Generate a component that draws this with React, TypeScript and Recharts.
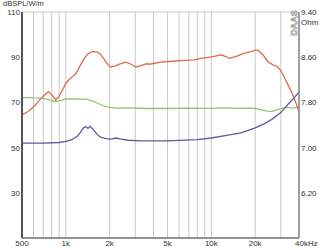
import React from 'react';
import { LineChart, Line, XAxis, YAxis, CartesianGrid } from 'recharts';

const gridFreqs = [500, 600, 700, 800, 900, 1000, 2000, 3000, 4000, 5000, 6000, 7000, 8000, 9000, 10000, 20000, 30000, 40000];
const freqLabels: Record<number, string> = { 500: '500', 1000: '1k', 2000: '2k', 5000: '5k', 10000: '10k', 20000: '20k', 40000: '40kHz' };

const splTicks = [10, 20, 30, 40, 50, 60, 70, 80, 90, 100, 110];
const splLabels = [30, 50, 70, 90, 110];
const ohmTicks = [5.4, 5.8, 6.2, 6.6, 7.0, 7.4, 7.8, 8.2, 8.6, 9.0, 9.4];
const ohmLabels = [6.2, 7.0, 7.8, 8.6, 9.4];

// red: SPL response
const splFreq = [500, 550, 600, 660, 720, 760, 810, 850, 890, 950, 1000, 1050, 1110, 1180, 1260, 1340, 1410, 1480, 1560, 1640, 1720, 1810, 1940, 2030, 2170, 2310, 2580, 2790, 3030, 3280, 3550, 3840, 4500, 5300, 6200, 7600, 8500, 10000, 11700, 12600, 13300, 14800, 16700, 18700, 20300, 21200, 22600, 24500, 26500, 28200, 30100, 32600, 35300, 37500, 40000];
const splDb = [64.4, 66, 68, 71, 73.5, 74.8, 73, 71.2, 72.3, 75.5, 78.5, 80, 81.3, 83, 86.5, 89.5, 91.3, 92.2, 92.5, 92.3, 91.5, 89.6, 86.8, 85.6, 86, 86.8, 87.8, 87, 85.6, 86.3, 87, 87, 87.8, 88.2, 88.5, 88.8, 89.5, 90.1, 91, 90.3, 89.5, 90.4, 91.7, 92.5, 93.2, 92.8, 91, 88, 86.6, 86, 84, 79.5, 75, 71, 66];

// green: second trace, dB scale
const greenFreq = [500, 505, 550, 600, 700, 760, 820, 870, 950, 1000, 1200, 1400, 1550, 1700, 1850, 2000, 2300, 2700, 3500, 5000, 7000, 10000, 12000, 15000, 18000, 20000, 22000, 24000, 26000, 28000, 30000, 33000, 36000, 40000];
const greenDb = [65.5, 72, 72.2, 72, 71.8, 71.2, 70.5, 70.5, 71, 71.5, 71.6, 71.3, 70.5, 69.3, 68.3, 67.8, 67.5, 67.6, 67.3, 67.3, 67.5, 67.4, 67.6, 67.4, 67.5, 67.3, 66.8, 66.1, 66, 66.6, 67.4, 67.8, 67.5, 67.9];

// blue: impedance in ohm
const impFreq = [500, 700, 900, 1000, 1100, 1200, 1260, 1320, 1370, 1420, 1470, 1530, 1600, 1680, 1750, 1900, 2050, 2200, 2400, 2700, 3300, 5000, 8000, 10000, 13000, 16000, 20000, 23000, 26000, 30000, 34000, 37000, 40000];
const impOhm = [7.08, 7.08, 7.09, 7.11, 7.14, 7.2, 7.27, 7.35, 7.37, 7.34, 7.38, 7.33, 7.27, 7.21, 7.18, 7.16, 7.15, 7.17, 7.15, 7.13, 7.12, 7.12, 7.14, 7.17, 7.22, 7.26, 7.35, 7.42, 7.5, 7.62, 7.78, 7.88, 7.98];

const splData = splFreq.map((f, i) => ({ f, v: splDb[i] }));
const greenData = greenFreq.map((f, i) => ({ f, v: greenDb[i] }));
const impData = impFreq.map((f, i) => ({ f, v: impOhm[i] }));

const FONT = '"Liberation Sans", Arial, sans-serif';
const TXT = '#333';
const FS = 8;

const FreqTick = ({ x, y, payload }: any) => {
  const label = freqLabels[payload.value];
  if (!label) return <g />;
  const last = payload.value === 40000;
  return (
    <text x={last ? x - 4 : x} y={y} dy={6} textAnchor={last ? 'start' : 'middle'} fontSize={FS} fontFamily={FONT} fill={TXT}>
      {label}
    </text>
  );
};

const SplTick = ({ x, y, payload }: any) => {
  if (!splLabels.includes(payload.value)) return <g />;
  const top = payload.value === 110;
  return (
    <g>
      <text x={x} y={y} dy={3} textAnchor="end" fontSize={FS} fontFamily={FONT} fill={TXT}>
        {payload.value}
      </text>
      {top && (
        <text x={3} y={6} textAnchor="start" fontSize={7.5} fontFamily={FONT} fill={TXT}>
          dBSPL/W/m
        </text>
      )}
    </g>
  );
};

const OhmTick = ({ x, y, payload }: any) => {
  const v = Number(payload.value);
  if (!ohmLabels.some((o) => Math.abs(o - v) < 1e-6)) return <g />;
  const top = Math.abs(v - 9.4) < 1e-6;
  return (
    <g>
      <text x={x} y={y} dy={3} textAnchor="start" fontSize={FS} fontFamily={FONT} fill={TXT}>
        {v.toFixed(2)}
      </text>
      {top && (
        <>
          <text x={x} y={y + 13} textAnchor="start" fontSize={FS} fontFamily={FONT} fill={TXT}>
            Ohm
          </text>
          <text
            transform={`translate(${x - 4}, ${y + 11}) rotate(-90)`}
            textAnchor="middle"
            fontSize={9}
            fontWeight="bold"
            fontFamily={FONT}
            fill="#fff"
            stroke="#999"
            strokeWidth={0.7}
          >
            DAAS
          </text>
        </>
      )}
    </g>
  );
};

export default function App() {
  return (
    <div style={{ position: 'absolute', left: 0, top: 0, background: '#fff' }}>
      <LineChart width={320} height={250} margin={{ top: 12, right: 0, bottom: 0, left: 0 }}>
        <CartesianGrid stroke="#c9c9c9" />
        <XAxis
          dataKey="f"
          type="number"
          scale="log"
          domain={[500, 40000]}
          ticks={gridFreqs}
          allowDataOverflow
          height={12}
          tickLine={false}
          tickSize={0}
          tick={<FreqTick />}
          interval={0}
          axisLine={{ stroke: '#777', strokeWidth: 1.5 }}
        />
        <XAxis
          xAxisId="top"
          orientation="top"
          dataKey="f"
          type="number"
          scale="log"
          domain={[500, 40000]}
          height={0}
          tick={false}
          tickLine={false}
          axisLine={{ stroke: '#666', strokeWidth: 1.5 }}
        />
        <YAxis
          yAxisId="spl"
          domain={[10, 110]}
          ticks={splTicks}
          width={22}
          tickLine={false}
          tickSize={0}
          interval={0}
          tick={<SplTick />}
          axisLine={{ stroke: '#555', strokeWidth: 2 }}
        />
        <YAxis
          yAxisId="ohm"
          orientation="right"
          domain={[5.4, 9.4]}
          ticks={ohmTicks}
          width={21}
          tickLine={false}
          tickSize={0}
          interval={0}
          tick={<OhmTick />}
          axisLine={{ stroke: '#888', strokeWidth: 1.5 }}
        />
        <Line yAxisId="spl" data={greenData} dataKey="v" stroke="#93c471" strokeWidth={1.3} dot={false} isAnimationActive={false} />
        <Line yAxisId="spl" data={splData} dataKey="v" stroke="#dc6a4e" strokeWidth={1.3} dot={false} isAnimationActive={false} />
        <Line yAxisId="ohm" data={impData} dataKey="v" stroke="#5b5b9e" strokeWidth={1.3} dot={false} isAnimationActive={false} />
      </LineChart>
    </div>
  );
}
